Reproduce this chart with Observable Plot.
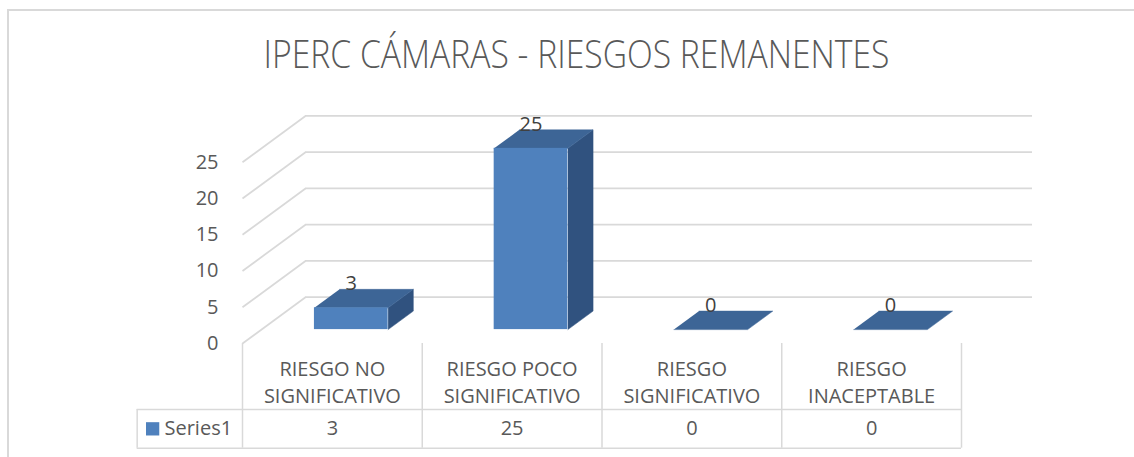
<!DOCTYPE html>
<html>
<head>
<meta charset="utf-8">
<script src="https://cdn.jsdelivr.net/npm/d3@7"></script>
<script src="https://cdn.jsdelivr.net/npm/@observablehq/plot@0.6"></script>
<style>
  html, body { margin: 0; padding: 0; background: #fff; overflow: hidden; }
  #wrap { position: relative; width: 1134px; height: 457px; }
  #frame { position: absolute; left: 7px; top: 9px; width: 1140px; height: 460px;
           border-top: 2px solid #d9d9d9; border-left: 2px solid #d9d9d9; pointer-events: none; }
  svg { font-family: "Open Sans", sans-serif; }
</style>
</head>
<body>
<div id="wrap"><div id="frame"></div></div>
<script>
// ---- data ----
const title = "IPERC CÁMARAS - RIESGOS REMANENTES";
const categories = ["RIESGO NO\nSIGNIFICATIVO", "RIESGO POCO\nSIGNIFICATIVO", "RIESGO\nSIGNIFICATIVO", "RIESGO\nINACEPTABLE"];
const values = [3, 25, 0, 0];
const yTicks = [0, 5, 10, 15, 20, 25];
const seriesName = "Series1";

// ---- geometry (data units) ----
const DX = 0.3505;    // depth shift along x (fraction of a category band)
const DY = 6.386;     // depth shift along y (value units)
const D0 = 0.3, D1 = 0.7;   // bar depth extent
const BAR_W = 0.41;
const WALL_RIGHT = 4.395;
const TABLE_TOP = -9.1, TABLE_BOTTOM = -14.44, TABLE_LEFT = -0.586;
const TABLE_MID = (TABLE_TOP + TABLE_BOTTOM) / 2;

// ---- styles ----
const FRONT = "#4f81bd", TOP = "#3d6596", SIDE = "#30527f";
const GRID = "#d9d9d9", TEXT = "#595959", LABEL = "#404040";

const bars = categories.map((c, i) => ({i, c, v: values[i], xl: i + 0.5 - BAR_W / 2, xr: i + 0.5 + BAR_W / 2}));

const topPts = bars.flatMap(b => [[b.xl, D0], [b.xr, D0], [b.xr, D1], [b.xl, D1]]
  .map(([x, d]) => ({id: b.i, x: x + d * DX, y: b.v + d * DY})));
const sidePts = bars.filter(b => b.v > 0).flatMap(b => [[D0, 0], [D1, 0], [D1, b.v], [D0, b.v]]
  .map(([d, v]) => ({id: b.i, x: b.xr + d * DX, y: v + d * DY})));

const chart = Plot.plot({
  width: 1134,
  height: 457,
  marginLeft: 242,
  marginRight: 173,
  marginTop: 161.75,
  marginBottom: 114,
  x: {domain: [0, 4], axis: null},
  y: {domain: [0, 25], axis: null},
  style: {fontFamily: "Open Sans, sans-serif", color: TEXT, background: "transparent"},
  marks: [
    // back wall gridlines
    Plot.ruleY(yTicks, {y: d => d + DY, x1: DX, x2: WALL_RIGHT, stroke: GRID, strokeWidth: 1.75}),
    // side wall gridlines
    Plot.link(yTicks, {x1: 0, y1: d => d, x2: DX, y2: d => d + DY, stroke: GRID, strokeWidth: 1.75}),
    // y axis labels
    Plot.axisY(yTicks, {tickSize: 0, tickPadding: 24, fontSize: 20, fill: TEXT, label: null}),
    // bars
    Plot.line(sidePts, {x: "x", y: "y", z: "id", fill: SIDE, stroke: SIDE, strokeWidth: 0.5}),
    Plot.line(topPts, {x: "x", y: "y", z: "id", fill: TOP, stroke: TOP, strokeWidth: 0.5}),
    Plot.rect(bars.filter(b => b.v > 0), {x1: b => b.xl + D0 * DX, x2: b => b.xr + D0 * DX, y1: D0 * DY, y2: b => b.v + D0 * DY, fill: FRONT}),
    // value labels
    Plot.text(bars, {x: b => b.i + 0.5 + D0 * DX, y: b => b.v + D1 * DY, text: b => String(b.v), lineAnchor: "bottom", dy: 1, fontSize: 20, fill: LABEL}),
    // category separators + table
    Plot.ruleX(d3.range(5), {x: d => d, y1: 0, y2: TABLE_BOTTOM, stroke: GRID, strokeWidth: 1.5}),
    Plot.ruleY([TABLE_TOP, TABLE_BOTTOM], {y: d => d, x1: TABLE_LEFT, x2: 4, stroke: GRID, strokeWidth: 1.5}),
    Plot.ruleX([TABLE_LEFT], {x: d => d, y1: TABLE_TOP, y2: TABLE_BOTTOM, stroke: GRID, strokeWidth: 1.5}),
    // category labels
    Plot.text(bars, {x: b => b.i + 0.5, y: 0, text: "c", lineAnchor: "middle", lineHeight: 1.365, dy: 37, fontSize: 20, fill: TEXT}),
    // table values
    Plot.text(bars, {x: b => b.i + 0.5, y: TABLE_MID, text: b => String(b.v), fontSize: 20, fill: TEXT}),
    // legend key in table
    Plot.dot([seriesName], {x: -0.5, y: TABLE_MID, symbol: "square", r: 7.5, fill: FRONT, stroke: null}),
    Plot.text([seriesName], {x: -0.434, y: TABLE_MID, text: d => d, textAnchor: "start", fontSize: 20, fill: TEXT}),
    // title
    Plot.text([title], {x: 1.858, y: 39.7, text: d => d, fontSize: 38, fontWeight: 300, fill: TEXT, className: "charttitle"})
  ]
});

d3.select(chart).select(".charttitle text")
  .attr("textLength", 626)
  .attr("lengthAdjust", "spacingAndGlyphs");

document.getElementById("wrap").prepend(chart);
</script>
</body>
</html>
